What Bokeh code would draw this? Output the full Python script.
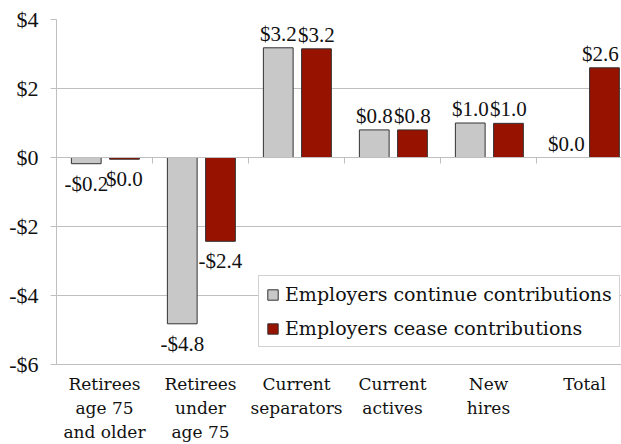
import numpy as np
from bokeh.plotting import figure
from bokeh.models import ColumnDataSource, FixedTicker, LinearAxis, Range1d, Legend, LegendItem
from bokeh.core.properties import value
from bokeh.embed import file_html
from bokeh.resources import INLINE

categories = ["Retirees\nage 75\nand older", "Retirees\nunder\nage 75", "Current\nseparators",
              "Current\nactives", "New\nhires", "Total"]
continue_vals = [-0.18, -4.82, 3.18, 0.80, 1.00, 0.0]
cease_vals = [-0.05, -2.43, 3.15, 0.80, 0.99, 2.60]
continue_labels = ["-$0.2", "-$4.8", "$3.2", "$0.8", "$1.0", "$0.0"]
cease_labels = ["$0.0", "-$2.4", "$3.2", "$0.8", "$1.0", "$2.6"]
series_names = ["Employers continue contributions", "Employers cease contributions"]
y_ticks = [-6, -4, -2, 0, 2, 4]
y_tick_labels = ["-$6", "-$4", "-$2", "$0", "$2", "$4"]

FONT_NUM = "Liberation Serif, serif"
FONT_TXT = "DejaVu Serif, serif"
GRID = "#bfbfbf"
GRAY = "#c8c8c8"
RED = "#981200"
INK = "#111111"

idx = np.arange(len(categories))
gray_x = idx + 0.31
red_x = idx + 0.708
bar_w = 0.31
x_end = 565 / 96

p = figure(width=621, height=444, x_range=Range1d(0, x_end), y_range=Range1d(-6, 4),
           output_backend="svg", toolbar_location=None,
           min_border_left=56, min_border_right=0, min_border_top=19, min_border_bottom=80)
p.outline_line_color = None
p.background_fill_color = "white"

# grid
p.xgrid.visible = False
p.ygrid.ticker = FixedTicker(ticks=y_ticks)
p.ygrid.grid_line_color = GRID

# y axis
p.yaxis.ticker = FixedTicker(ticks=y_ticks)
p.yaxis.major_label_overrides = {t: l for t, l in zip(y_ticks, y_tick_labels)}
p.yaxis.axis_line_color = GRID
p.yaxis.major_tick_line_color = GRID
p.yaxis.major_tick_out = 6
p.yaxis.major_tick_in = 0
p.yaxis.minor_tick_line_color = None
p.yaxis.major_label_text_font = FONT_NUM
p.yaxis.major_label_text_font_size = "22px"
p.yaxis.major_label_text_color = INK
p.yaxis.major_label_standoff = 12

# x axis (labels)
centers = [i + 0.5 for i in idx]
p.xaxis.ticker = FixedTicker(ticks=centers)
p.xaxis.major_label_overrides = {c: l for c, l in zip(centers, categories)}
p.xaxis.axis_line_color = GRID
p.xaxis.major_tick_line_color = None
p.xaxis.minor_tick_line_color = None
p.xaxis.major_label_text_font = FONT_TXT
p.xaxis.major_label_text_font_size = "17px"
p.xaxis.major_label_text_color = INK
p.xaxis.major_label_standoff = 3

# zero axis with category boundary ticks
zero_axis = LinearAxis(fixed_location=0, ticker=FixedTicker(ticks=[], minor_ticks=[1, 2, 3, 4, 5]),
                       axis_line_color=GRID, minor_tick_line_color=GRID, minor_tick_out=6,
                       minor_tick_in=0, major_tick_line_color=None, major_label_standoff=0,
                       major_label_text_font_size="0px")
p.add_layout(zero_axis, "below")


def label_style(vals, xs):
    base = ["bottom" if v >= 0 else "top" for v in vals]
    yoff = [-2 if v >= 0 else 8 for v in vals]
    # keep labels inside the plotting frame near its right edge
    xoff = [-4 if x + bar_w / 2 > x_end - 0.1 else 0 for x in xs]
    return base, yoff, xoff


gb, gyo, gxo = label_style(continue_vals, gray_x)
rb, ryo, rxo = label_style(cease_vals, red_x)

src = ColumnDataSource(dict(gx=gray_x, rx=red_x, g=continue_vals, r=cease_vals,
                            gl=continue_labels, rl=cease_labels,
                            gb=gb, rb=rb, gyo=gyo, ryo=ryo, gxo=gxo, rxo=rxo))

r1 = p.vbar(x="gx", top="g", bottom=0, width=bar_w, source=src, fill_color=GRAY,
            line_color="#333333", line_width=1)
r2 = p.vbar(x="rx", top="r", bottom=0, width=bar_w, source=src, fill_color=RED,
            line_color="#333333", line_width=1)

p.text(x="gx", y="g", text="gl", source=src, text_align="center", text_baseline="gb",
       x_offset="gxo", y_offset="gyo", text_font=value(FONT_NUM), text_font_size="21px",
       text_color=INK)
p.text(x="rx", y="r", text="rl", source=src, text_align="center", text_baseline="rb",
       x_offset="rxo", y_offset="ryo", text_font=value(FONT_NUM), text_font_size="21px",
       text_color=INK)

legend = Legend(items=[LegendItem(label=series_names[0], renderers=[r1]),
                       LegendItem(label=series_names[1], renderers=[r2])],
                location=(202, 17))
legend.label_text_font = FONT_TXT
legend.label_text_font_size = "19px"
legend.label_text_color = INK
legend.glyph_width = 13
legend.glyph_height = 13
legend.label_height = 18
legend.label_standoff = 6
legend.spacing = 12
legend.padding = 7
legend.margin = 0
legend.border_line_color = "#a6a6a6"
legend.background_fill_alpha = 1
p.add_layout(legend, "center")

open("out.html", "w").write(file_html(p, INLINE))
